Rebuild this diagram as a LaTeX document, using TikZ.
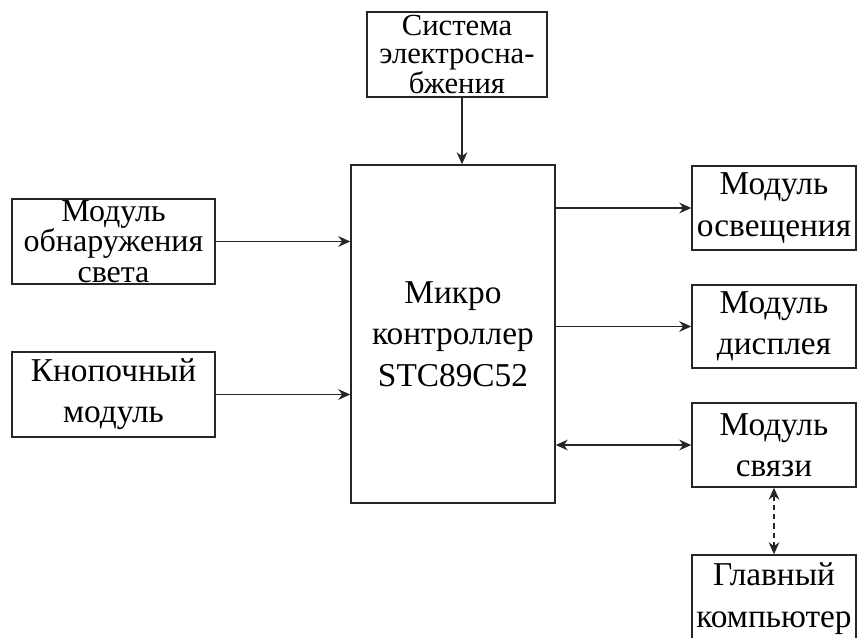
\documentclass[tikz,border=0pt]{standalone}
\usepackage{fontspec}
\setmainfont{Liberation Serif}
\usetikzlibrary{arrows.meta,calc}

\begin{document}
\begin{tikzpicture}[x=0.75pt, y=-0.75pt, line width=1.1pt, draw=black!85, >={Stealth[length=9pt,width=8pt]}]
  \tikzstyle{block}=[draw=black!85, rectangle, inner sep=0pt, align=center, font=\fontsize{25}{31}\selectfont]
  \tikzstyle{tight}=[font=\fontsize{24}{23}\selectfont]
  \useasboundingbox (0,0) rectangle (858,638);
  \clip (0,0) rectangle (858,638);
  % blocks
  \node[block, font=\fontsize{23}{21}\selectfont, minimum width=135pt, minimum height=63.75pt] (pwr) at (457,54.5) {Система\\электросна-\\бжения};
  \node[block, minimum width=153pt, minimum height=253.5pt] (mcu) at (453,334) {Микро\\контроллер\\STC89C52};
  \node[block, tight, minimum width=152.25pt, minimum height=63.75pt] (light) at (113.5,241.5) {Модуль\\обнаружения\\света};
  \node[block, minimum width=152.25pt, minimum height=63.75pt] (btn) at (113.5,394.5) {Кнопочный\\модуль};
  \node[block, minimum width=123pt, minimum height=63pt] (lamp) at (774,208) {Модуль\\освещения};
  \node[block, minimum width=123pt, minimum height=62.25pt] (disp) at (774,326.5) {Модуль\\дисплея};
  \node[block, minimum width=123pt, minimum height=63pt] (comm) at (774,445) {Модуль\\связи};
  \node[block, minimum width=123pt, minimum height=65.25pt] (pc) at (774,598.5) {Главный\\компьютер};
  % connectors
  \coordinate (pin) at (462,0);
  \draw[->] (pwr.south -| pin) -- (mcu.north -| pin);
  \draw[->] (light.east) -- (light -| mcu.west);
  \draw[->] (btn.east) -- (btn -| mcu.west);
  \draw[->] (mcu.east |- lamp) -- (lamp.west);
  \draw[->] (mcu.east |- disp) -- (disp.west);
  \draw[<->] (mcu.east |- comm) -- (comm.west);
  \draw[<->, dash pattern=on 4pt off 3pt] (comm.south) -- (pc.north);
\end{tikzpicture}
\end{document}
